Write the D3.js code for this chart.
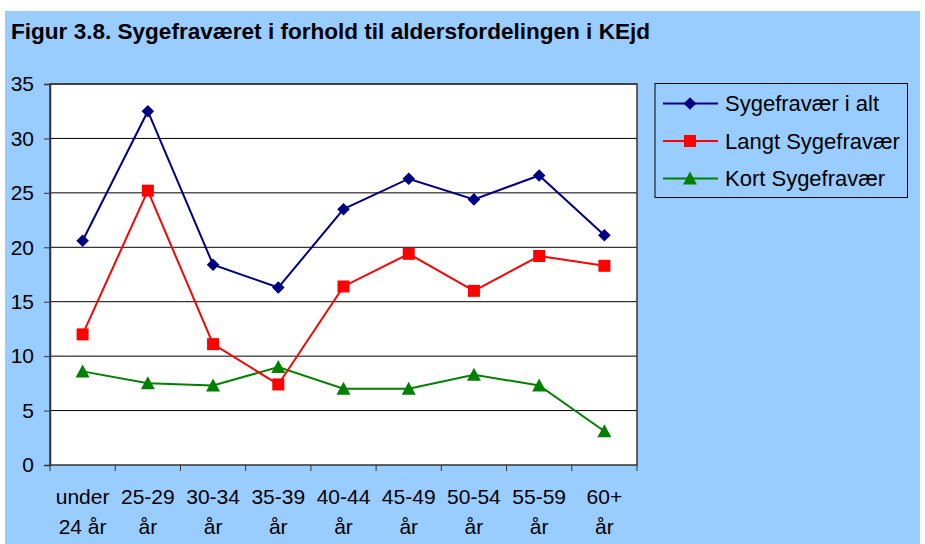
<!DOCTYPE html>
<html><head><meta charset="utf-8">
<script src="https://cdn.jsdelivr.net/npm/d3@7"></script>
<style>html,body{margin:0;padding:0;background:#fff;}svg{display:block;font-family:"Liberation Sans",Arial,sans-serif;}</style>
</head><body>
<script>
const categories = [["under","24 år"],["25-29","år"],["30-34","år"],["35-39","år"],["40-44","år"],["45-49","år"],["50-54","år"],["55-59","år"],["60+","år"]];
const sygefravaerIAlt = [20.6, 32.5, 18.4, 16.3, 23.5, 26.3, 24.4, 26.6, 21.1];
const langtSygefravaer = [12.0, 25.2, 11.1, 7.4, 16.4, 19.4, 16.0, 19.2, 18.3];
const kortSygefravaer = [8.6, 7.5, 7.3, 9.0, 7.0, 7.0, 8.3, 7.3, 3.1];
const yTicks = [0,5,10,15,20,25,30,35];
const seriesNames = ["Sygefravær i alt","Langt Sygefravær","Kort Sygefravær"];
const title = "Figur 3.8. Sygefraværet i forhold til aldersfordelingen i KEjd";

const W = 925, H = 544;
const svg = d3.select("body").append("svg").attr("width", W).attr("height", H);
svg.append("rect").attr("x",5).attr("y",11).attr("width",915).attr("height",H-11).attr("fill","#99CCFF");
svg.append("text").attr("x",11).attr("y",38.5).attr("font-size",22).attr("font-weight","bold")
  .attr("textLength",639).attr("lengthAdjust","spacingAndGlyphs").text(title);

const L = 50, R = 637, T = 84, B = 465;
const x = d3.scaleBand().domain(d3.range(categories.length)).range([L,R]);
const y = d3.scaleLinear().domain([0,35]).range([B,T]);

svg.append("rect").attr("x",L).attr("y",T).attr("width",R-L).attr("height",B-T).attr("fill","#fff");
svg.append("g").selectAll("line").data(yTicks.filter(d=>d>0)).join("line")
  .attr("x1",L).attr("x2",R).attr("y1",d=>y(d)).attr("y2",d=>y(d)).attr("stroke","#000").attr("stroke-width",1);
svg.append("rect").attr("x",L).attr("y",T).attr("width",R-L).attr("height",B-T).attr("fill","none").attr("stroke","#333").attr("stroke-width",1.5);

// y axis
const ya = svg.append("g").attr("transform",`translate(${L},0)`).call(d3.axisLeft(y).tickValues(yTicks).tickSize(6).tickPadding(10));
ya.select(".domain").attr("stroke","#333").attr("stroke-width",1.5);
ya.selectAll(".tick line").attr("stroke","#333");
ya.selectAll("text").attr("font-size",21).attr("font-family","Liberation Sans, Arial, sans-serif").attr("fill","#000");

// x axis ticks at band boundaries
const bounds = d3.range(categories.length+1).map(i => L + i*x.step());
svg.append("g").selectAll("line").data(bounds).join("line")
  .attr("x1",d=>d).attr("x2",d=>d).attr("y1",B).attr("y2",B+6).attr("stroke","#333").attr("stroke-width",1);
const xl = svg.append("g").selectAll("text").data(categories).join("text")
  .attr("text-anchor","middle").attr("font-size",21)
  .attr("transform",(d,i)=>`translate(${x(i)+x.bandwidth()/2},0)`);
xl.append("tspan").attr("x",0).attr("y",503.5).text(d=>d[0]);
xl.append("tspan").attr("x",0).attr("y",534).text(d=>d[1]);

const diamond = "M0,-6.3L6.3,0L0,6.3L-6.3,0Z";
const square = "M-6,-6H6V6H-6Z";
const triangle = "M0,-7L7,6H-7Z";
const series = [
  {name:seriesNames[0], values:sygefravaerIAlt, color:"#000080", marker:diamond},
  {name:seriesNames[1], values:langtSygefravaer, color:"#FF0000", marker:square},
  {name:seriesNames[2], values:kortSygefravaer, color:"#008000", marker:triangle}
];
const cx = i => x(i)+x.bandwidth()/2;
const line = d3.line().x((d,i)=>cx(i)).y(d=>y(d));
series.slice().reverse().forEach(s=>{
  svg.append("path").attr("d",line(s.values)).attr("fill","none").attr("stroke",s.color).attr("stroke-width",2);
  svg.append("g").selectAll("path").data(s.values).join("path")
    .attr("d",s.marker)
    .attr("transform",(d,i)=>`translate(${cx(i)},${y(d)})`)
    .attr("fill",s.color);
});

// legend
const lg = svg.append("g");
lg.append("rect").attr("x",655).attr("y",83.5).attr("width",252.5).attr("height",114).attr("fill","none").attr("stroke","#000").attr("stroke-width",1);
const ly = [103.5,141,178.5];
series.forEach((s,i)=>{
  lg.append("line").attr("x1",663).attr("x2",718).attr("y1",ly[i]).attr("y2",ly[i]).attr("stroke",s.color).attr("stroke-width",2);
  lg.append("path").attr("d",s.marker).attr("transform",`translate(690,${ly[i]})`).attr("fill",s.color);
  lg.append("text").attr("x",725).attr("y",ly[i]+7.5).attr("font-size",22).text(s.name);
});
</script>
</body></html>
